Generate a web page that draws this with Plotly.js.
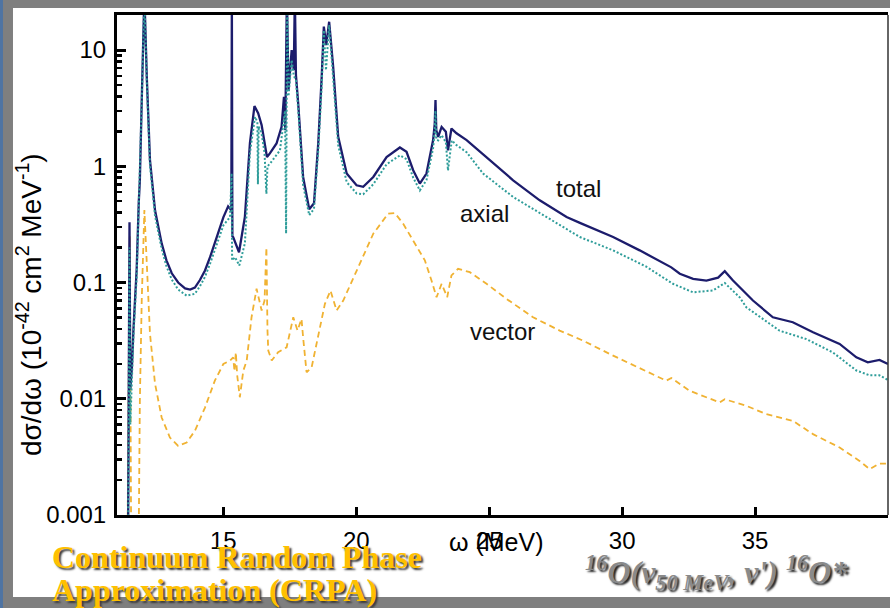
<!DOCTYPE html>
<html>
<head>
<meta charset="utf-8">
<script src="https://cdn.plot.ly/plotly-3.0.1.min.js"></script>
<style>
  html, body { margin: 0; padding: 0; background: #7f7f7f; }
  #chart { width: 890px; height: 608px; }
</style>
</head>
<body>
<div id="chart"></div>
<script>
// Excitation energy ω (MeV) and dσ/dω (10^-42 cm^2 MeV^-1) for each response channel

const totalOmega = [11.42, 11.47, 11.50, 11.56, 11.62, 11.74, 11.82, 11.86, 11.94, 12.03,
  12.12, 12.24, 12.43, 12.68, 12.86, 13.06, 13.30, 13.56, 13.75, 13.93,
  14.12, 14.31, 14.50, 14.68, 14.85, 15.00,
  15.18, 15.30, 15.32, 15.34, 15.37, 15.59, 15.81, 16.00, 16.17, 16.31,
  16.44, 16.54, 16.64, 16.75, 17.00, 17.19, 17.28, 17.33, 17.39, 17.45,
  17.57, 17.65, 17.69, 17.73, 17.82, 18.00, 18.23, 18.41, 18.57, 18.70,
  18.78, 18.87, 18.98, 19.13, 19.32, 19.64, 20.01, 20.26, 20.64, 21.14,
  21.64, 21.89, 22.14, 22.39, 22.64, 22.89, 22.95, 22.98, 23.01, 23.08,
  23.21, 23.37, 23.45, 23.58, 23.77, 24.15, 25.02, 25.90, 26.90, 27.91,
  28.41, 29.66, 30.66, 31.67, 31.85, 32.17, 32.67, 33.17, 33.61, 33.86,
  34.17, 34.92, 35.67, 36.42, 37.18, 38.18, 38.81, 39.24, 39.68, 40.00];
const totalXs = [0.0009, 0.33, 0.012, 0.0185, 0.04, 0.13, 0.5, 0.76, 4.5, 30,
  5.9, 1.13, 0.418, 0.217, 0.155, 0.12, 0.1, 0.0888, 0.087, 0.0905,
  0.105, 0.127, 0.165, 0.217, 0.285, 0.363,
  0.452, 0.418, 30, 0.25, 0.246, 0.182, 0.366, 1.58, 3.29, 2.86,
  2.26, 1.58, 1.2, 1.29, 1.57, 2.18, 3.96, 2.04, 30, 4.5,
  10, 6.7, 30, 6.1, 3.36, 0.81, 0.426, 0.48, 1.58, 5.9,
  15.9, 11.0, 17.5, 7.2, 1.79, 0.865, 0.686, 0.666, 0.809, 1.2,
  1.45, 1.33, 0.924, 0.709, 0.865, 1.68, 2.3, 3.71, 2.04, 1.79,
  2.18, 1.98, 1.37, 2.11, 1.92, 1.68, 1.13, 0.757, 0.509, 0.366,
  0.326, 0.246, 0.189, 0.140, 0.135, 0.119, 0.1076, 0.104, 0.11, 0.125,
  0.104, 0.07, 0.0502, 0.0455, 0.0373, 0.0296, 0.0227, 0.0206, 0.0216, 0.0199];

const axialOmega = [11.42, 11.47, 11.50, 11.56, 11.62, 11.74, 11.82, 11.86, 11.94, 12.03,
  12.12, 12.24, 12.43, 12.68, 12.86, 13.06, 13.30, 13.62, 13.93, 14.12,
  14.31, 14.50, 14.68, 14.85, 15.00,
  15.25, 15.31, 15.33, 15.44, 15.60, 15.81, 16.00, 16.19, 16.28, 16.30,
  16.33, 16.44, 16.55, 16.62, 16.66, 16.75, 17.13, 17.32, 17.36, 17.40,
  17.45, 17.57, 17.65, 17.73, 17.82, 18.00, 18.23, 18.41, 18.57, 18.70,
  18.78, 18.86, 18.98, 19.13, 19.32, 19.64, 20.01, 20.26, 20.64, 21.14,
  21.64, 21.89, 22.14, 22.39, 22.64, 22.89, 22.95, 22.98, 23.01, 23.08,
  23.21, 23.37, 23.45, 23.59, 23.77, 24.15, 24.77, 25.90, 27.15, 28.41,
  29.66, 30.91, 31.91, 32.67, 33.42, 33.86, 34.42, 34.67, 35.92, 36.93,
  37.93, 38.81, 39.31, 39.68, 40.00];
const axialXs = [0.0009, 0.2, 0.006, 0.015, 0.035, 0.11, 0.45, 0.68, 4.2, 30,
  5.5, 1.02, 0.375, 0.195, 0.138, 0.106, 0.087, 0.077, 0.08, 0.093,
  0.112, 0.145, 0.19, 0.25, 0.31,
  0.365, 0.87, 0.155, 0.165, 0.14, 0.217, 1.3, 2.66, 2.4, 0.7,
  2.2, 1.9, 1.3, 0.58, 1.0, 1.05, 1.37, 3.0, 0.264, 30,
  4.0, 8.2, 6.0, 5.5, 3.0, 0.69, 0.38, 0.43, 1.37, 5.0,
  14.8, 6.7, 16.4, 6.1, 1.52, 0.73, 0.585, 0.574, 0.70, 1.04,
  1.24, 1.15, 0.80, 0.62, 0.76, 1.43, 2.0, 3.0, 1.7, 1.67,
  1.85, 1.61, 0.92, 1.67, 1.52, 1.32, 0.865, 0.544, 0.366, 0.246,
  0.189, 0.1367, 0.0975, 0.0823, 0.0855, 0.099, 0.0746, 0.0612, 0.0385, 0.0326,
  0.025, 0.0175, 0.0159, 0.0159, 0.0145];

const vectorOmega = [11.40, 11.48, 11.53, 11.82, 11.86, 11.93, 12.03, 12.12, 12.24, 12.43,
  12.68, 12.99, 13.30, 13.62, 13.93, 14.31, 14.68, 15.00, 15.25, 15.37,
  15.42, 15.47, 15.52, 15.62, 15.75, 15.88, 16.06, 16.25, 16.44, 16.55,
  16.62, 16.66, 16.69, 16.82, 17.06, 17.38, 17.63, 17.79, 17.94, 18.00,
  18.13, 18.32, 18.57, 18.82, 19.03, 19.26, 19.51, 20.01, 20.64, 21.20,
  21.45, 21.76, 22.20, 22.58, 22.83, 23.02, 23.21, 23.42, 23.58, 23.83,
  24.27, 24.90, 25.65, 26.65, 27.65, 28.53, 29.66, 30.91, 31.66, 31.85,
  32.54, 33.67, 33.86, 34.67, 35.42, 36.42, 37.18, 38.18, 38.93, 39.31,
  39.68, 40.00];
const vectorXs = [0.0008, 0.25, 0.0008, 0.0008, 0.0096, 0.07, 0.42, 0.135, 0.0363, 0.0135,
  0.0069, 0.00464, 0.00393, 0.0042, 0.0053, 0.0084, 0.0143, 0.0199, 0.0213, 0.0227,
  0.0172, 0.025, 0.016, 0.0103, 0.0174, 0.0213, 0.0502, 0.0883, 0.0574, 0.07,
  0.2, 0.0386, 0.026, 0.0213, 0.0251, 0.0277, 0.0502, 0.0386, 0.0486, 0.0338,
  0.0169, 0.0186, 0.0338, 0.0655, 0.0853, 0.0574, 0.07, 0.127, 0.263, 0.391,
  0.396, 0.321, 0.216, 0.155, 0.104, 0.0747, 0.0975, 0.0747, 0.115, 0.131,
  0.1227, 0.0975, 0.0723, 0.0502, 0.0386, 0.0316, 0.0235, 0.0174, 0.0143, 0.0151,
  0.0117, 0.0093, 0.0099, 0.0087, 0.00738, 0.00646, 0.00496, 0.00381, 0.00292, 0.00248,
  0.00277, 0.00277];

const xTickVals = [15, 20, 25, 30, 35];
const yTickVals = [0.001, 0.01, 0.1, 1, 10];
const yTickText = ['0.001', '0.01', '0.1', '1', '10'];
const yMinorVals = [];
[0.001, 0.01, 0.1, 1].forEach(d => { for (let k = 2; k <= 9; k++) yMinorVals.push(+(d * k).toPrecision(3)); });

const sans = 'Liberation Sans, Arial, Helvetica, sans-serif';
const serif = 'Liberation Serif, Times New Roman, serif';

const traces = [
  { x: vectorOmega, y: vectorXs, mode: 'lines', name: 'vector',
    line: { color: '#f0b232', width: 1.8, dash: '6px,4px' } },
  { x: totalOmega, y: totalXs, mode: 'lines', name: 'total',
    line: { color: '#1c1c6c', width: 2.3 } },
  { x: axialOmega, y: axialXs, mode: 'lines', name: 'axial',
    line: { color: '#2f9d9a', width: 2, dash: '2px,2px' } }
];

const layout = {
  width: 890, height: 608,
  margin: { l: 117, r: 2, t: 15, b: 93 },
  paper_bgcolor: '#7f7f7f',
  plot_bgcolor: '#ffffff',
  showlegend: false,
  font: { family: sans, color: '#000' },
  xaxis: {
    range: [11, 40],
    tickmode: 'array', tickvals: xTickVals,
    ticks: 'inside', ticklen: 8, tickwidth: 3, tickcolor: '#000',
    showline: true, linewidth: 3, linecolor: '#000', mirror: true,
    showgrid: false, zeroline: false,
    tickfont: { size: 24, family: sans, color: '#000' },
    ticklabelstandoff: 2
  },
  yaxis: {
    type: 'log',
    range: [-3, Math.log10(20)],
    tickmode: 'array', tickvals: yTickVals, ticktext: yTickText,
    ticks: 'inside', ticklen: 9, tickwidth: 3, tickcolor: '#000',
    minor: { tickmode: 'array', tickvals: yMinorVals, ticks: 'inside', ticklen: 5, tickwidth: 2.5, tickcolor: '#000', showgrid: false },
    showline: true, linewidth: 3, linecolor: '#000',
    showgrid: false, zeroline: false,
    tickfont: { size: 24, family: sans, color: '#000' },
    ticklabelstandoff: 3
  },
  shapes: [
    // white slide panel behind the chart
    { type: 'rect', xref: 'paper', yref: 'paper', layer: 'below',
      x0: -0.1349, x1: 1.01, y0: -0.164, y1: 1.014,
      fillcolor: '#ffffff', line: { width: 0 } },
    // thin blue strip at the slide's left edge
    { type: 'rect', xref: 'paper', yref: 'paper', layer: 'below',
      x0: -0.1518, x1: -0.1479, y0: -0.19, y1: 1.04,
      fillcolor: '#4f74a3', line: { width: 0 } },
    // right frame edge
    { type: 'line', xref: 'paper', yref: 'paper',
      x0: 1, x1: 1, y0: 0, y1: 1,
      line: { color: '#333', width: 1.5 } }
  ],
  annotations: [
    { text: 'dσ/dω (10<sup>-42</sup> cm<sup>2</sup> MeV<sup>-1</sup>)',
      xref: 'paper', yref: 'paper', x: -0.114, y: 0.42,
      textangle: -90, showarrow: false, xanchor: 'center', yanchor: 'middle',
      font: { size: 28, family: sans, color: '#000' } },
    { text: 'ω (MeV)', xref: 'paper', yref: 'paper', x: 0.4916, y: -0.053,
      showarrow: false, xanchor: 'center', yanchor: 'middle',
      font: { size: 25, family: sans, color: '#000' } },
    { text: 'total', x: 28.37, y: -0.19, showarrow: false,
      font: { size: 24, family: sans, color: '#111' } },
    { text: 'axial', x: 24.83, y: -0.405, showarrow: false,
      font: { size: 24, family: sans, color: '#111' } },
    { text: 'vector', x: 25.51, y: -1.422, showarrow: false,
      font: { size: 24, family: sans, color: '#111' } },
    { text: 'Continuum Random Phase',
      xref: 'paper', yref: 'paper', x: -0.087, y: -0.084,
      xanchor: 'left', yanchor: 'middle', align: 'left', showarrow: false,
      font: { size: 32, family: serif, color: '#ffc000', weight: 'bold', shadow: '2px 2px 2px #3a3a3a' } },
    { text: 'Approximation (CRPA)',
      xref: 'paper', yref: 'paper', x: -0.087, y: -0.15,
      xanchor: 'left', yanchor: 'middle', align: 'left', showarrow: false,
      font: { size: 32, family: serif, color: '#ffc000', weight: 'bold', shadow: '2px 2px 2px #3a3a3a' } },
    { text: '<sup>16</sup>O(ν<sub>50 MeV</sub>, ν\') <sup>16</sup>O*',
      xref: 'paper', yref: 'paper', x: 0.778, y: -0.114,
      xanchor: 'center', yanchor: 'middle', showarrow: false,
      font: { size: 32, family: serif, color: '#8a8a8a', weight: 'bold', style: 'italic', shadow: '2px 2px 2px #222' } }
  ]
};

Plotly.newPlot('chart', traces, layout, { staticPlot: true, displayModeBar: false });
</script>
</body>
</html>
